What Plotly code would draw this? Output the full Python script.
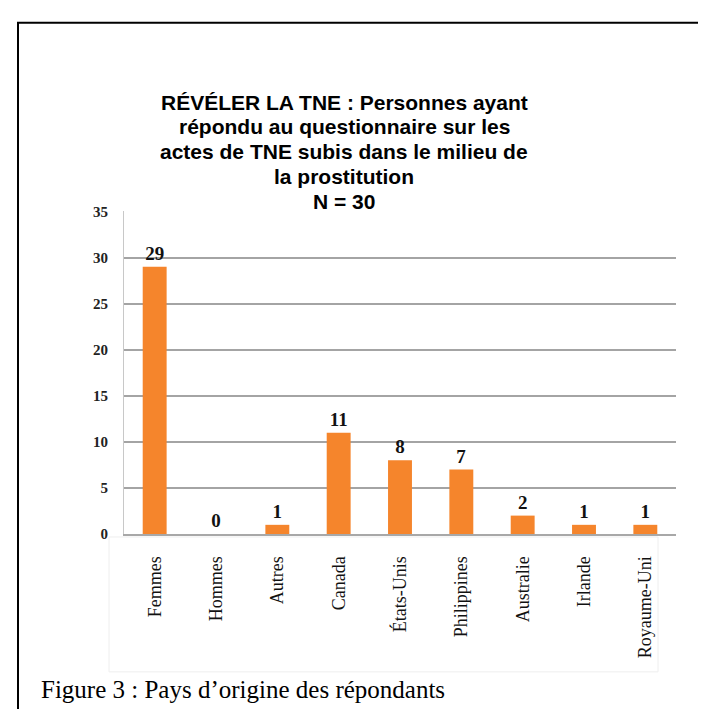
import plotly.graph_objects as go

categories = ["Femmes", "Hommes", "Autres", "Canada", "États-Unis", "Philippines", "Australie", "Irlande", "Royaume-Uni"]
values = [29, 0, 1, 11, 8, 7, 2, 1, 1]
y_ticks = [0, 5, 10, 15, 20, 25, 30, 35]
title_lines = ["RÉVÉLER LA TNE : Personnes ayant", "répondu au questionnaire sur les",
               "actes de TNE subis dans le milieu de", "la prostitution", "N = 30"]
caption = "Figure 3 : Pays d’origine des répondants"

W, H = 706, 709
def px(x): return x / W
def py(y): return 1 - y / H

fig = go.Figure(go.Bar(
    x=categories, y=values, width=0.39,
    marker=dict(color="#F5852C", line=dict(width=0)),
    text=[str(v) for v in values], textposition="outside",
    texttemplate="<b>%{text}</b>",
    textfont=dict(family="Liberation Serif", size=19, color="#111"),
    cliponaxis=False,
))

fig.update_layout(
    width=W, height=H, margin=dict(l=0, r=0, t=0, b=0),
    paper_bgcolor="white", plot_bgcolor="white", showlegend=False,
    xaxis=dict(domain=[px(116), px(668)], tickangle=-90, showgrid=False,
               tickfont=dict(family="Liberation Serif", size=18, color="#111"),
               ticks="", showline=True, linecolor="#a8a8a8", linewidth=2,
               ticklabelstandoff=13),
    yaxis=dict(domain=[py(530), py(200)], range=[0, 35], tickvals=y_ticks,
               ticktext=[f"<b>{t}</b>" for t in y_ticks],
               tickfont=dict(family="Liberation Serif", size=15, color="#222"),
               showgrid=True, gridcolor="#a4a4a4", gridwidth=1.5,
               zeroline=False, showline=True, linecolor="#c8c8c8", linewidth=1,
               ticks="", ticklabelstandoff=12),
)

line_y = [88, 113.5, 139, 164.5, 190]
for txt, yc in zip(title_lines, line_y):
    fig.add_annotation(text=f"<b>{txt}</b>", x=px(336), y=py(yc), xref="paper", yref="paper",
                       xanchor="center", yanchor="middle", showarrow=False,
                       font=dict(family="Liberation Sans", size=21, color="#000"))

fig.add_annotation(text=caption, x=px(31), y=py(705),
                   xref="paper", yref="paper", xanchor="left", yanchor="bottom",
                   showarrow=False, font=dict(family="Liberation Serif", size=25, color="#000"))

# outer frame (no bottom edge) and faint label box
fig.add_shape(type="path", xref="paper", yref="paper",
              path=f"M {px(10)},0 L {px(10)},{py(7)} L {px(705)},{py(7)} L {px(705)},0",
              line=dict(color="#000", width=2))
fig.add_shape(type="rect", xref="paper", yref="paper",
              x0=px(101), x1=px(650), y0=py(671), y1=py(533),
              line=dict(color="#eeeeee", width=1), layer="below")

fig.write_html("out.html")
